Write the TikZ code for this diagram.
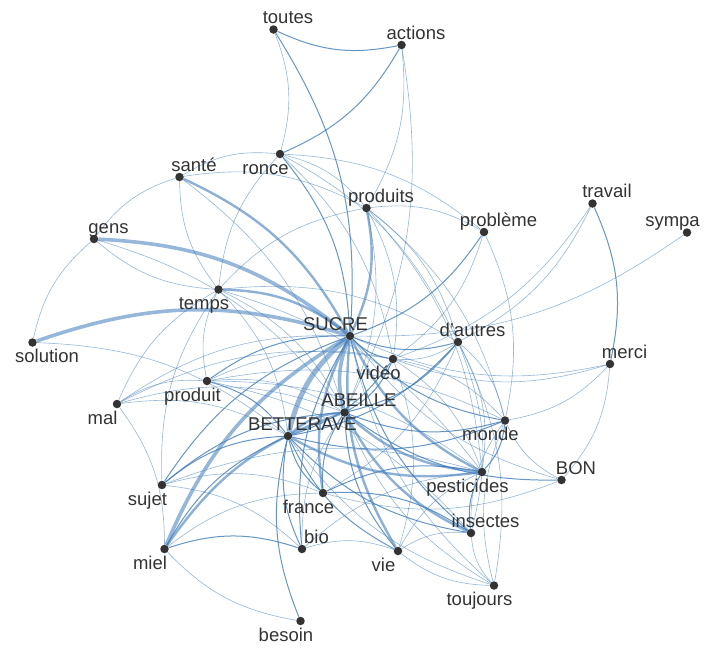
\documentclass[tikz,border=0pt]{standalone}
\usepackage{fontspec}
\setmainfont{Liberation Sans}
\usetikzlibrary{calc}
\definecolor{linkcol}{HTML}{3F7CBA}
\definecolor{inkcol}{HTML}{333333}
\pgfdeclarelayer{links}
\pgfsetlayers{links,main}
\tikzset{>=latex}
\tikzset{
	word/.style = {circle, fill = inkcol, inner sep = 0pt, minimum size = 8.5pt},
	lab/.style = {anchor = base, text = inkcol, inner sep = 0pt, font = \fontsize{18.5}{22}\selectfont},
	lne/.style = {xshift = 14.5pt, yshift = 6pt},
	lnw/.style = {xshift = -14.5pt, yshift = 6pt},
	lse/.style = {xshift = 14.5pt, yshift = -20pt},
	lsw/.style = {xshift = -14.5pt, yshift = -20pt},
	w1/.style = {linkcol, line width = 0.6pt, draw opacity = 0.55},
	w2/.style = {linkcol, line width = 1pt, draw opacity = 0.8},
	w3/.style = {linkcol, line width = 2.4pt, draw opacity = 0.6},
	w4/.style = {linkcol, line width = 3.6pt, draw opacity = 0.55},
	w5/.style = {linkcol, line width = 5pt, draw opacity = 0.55}
}

\begin{document}
\begin{tikzpicture}[x = 1pt, y = -1pt]
\useasboundingbox (0,0) rectangle (720,651);

\foreach \n/\x/\y/\t/\p in {toutes/273.5/29.5/toutes/lne, actions/401.5/45/actions/lne,
	ronce/280/154/ronce/lsw, sante/179.5/177/santé/lne, produits/366.5/208/produits/lne,
	probleme/484/232/problème/lne, travail/592.5/203.5/travail/lne, sympa/687/232.5/sympa/lnw,
	gens/94/239/gens/lne, temps/218.5/289.5/temps/lsw, sucre/350/336/SUCRE/lnw,
	autres/458/342/d'autres/lne, solution/32.5/342.5/solution/lse, video/393/359/vidéo/lsw,
	merci/610/364/merci/lne, produit/207/381/produit/lsw, mal/117/404/mal/lsw,
	abeille/344.5/412.5/ABEILLE/lne, betterave/288/436/BETTERAVE/lne, monde/505/420.5/monde/lsw,
	bon/561.5/480/BON/lne, pesticides/482/472/pesticides/lsw, sujet/162/485/sujet/lsw,
	france/323/493/france/lsw, insectes/471/533/insectes/lne, bio/302/549/bio/lne,
	miel/164.5/549/miel/lsw, vie/398/551/vie/lsw, toujours/494/585.5/toujours/lsw,
	besoin/300.5/621/besoin/lsw} {
	\node[word] (\n) at (\x,\y) {};
	\node[lab, \p] (\n-t) at (\x,\y) {\t};
}

\begin{pgfonlayer}{links}
\foreach \a/\b/\w in {betterave/sucre/w5, abeille/sucre/w4, betterave/abeille/w3,
	actions/toutes/w2, toutes/ronce/w1, toutes/sucre/w2, actions/ronce/w2, actions/produits/w1,
	actions/abeille/w1, sante/ronce/w1, ronce/produits/w1, ronce/probleme/w1, ronce/autres/w1,
	ronce/sucre/w2, ronce/video/w1, temps/ronce/w1,
	gens/sante/w1, sante/sucre/w3, temps/sante/w1, sante/produits/w1, sante/abeille/w1,
	solution/gens/w1, gens/sucre/w4, temps/gens/w1, gens/abeille/w1,
	solution/sucre/w4, solution/betterave/w1,
	temps/sucre/w3, temps/produits/w1, temps/autres/w1, temps/betterave/w1, temps/abeille/w1,
	temps/pesticides/w1, sujet/temps/w1, mal/temps/w1, produit/temps/w1,
	produits/sucre/w3, produits/probleme/w1, produits/autres/w1, produits/abeille/w1,
	produits/monde/w1, produits/pesticides/w1, produits/video/w1,
	probleme/sucre/w2, probleme/video/w1, probleme/monde/w1,
	travail/merci/w2, travail/autres/w1, travail/video/w1, sympa/sucre/w1,
	autres/sucre/w2, autres/abeille/w2, autres/betterave/w2, autres/video/w1, autres/pesticides/w1,
	autres/insectes/w1, autres/toujours/w1, autres/france/w1, autres/monde/w1,
	video/sucre/w2, video/abeille/w2, video/betterave/w2, merci/video/w1, video/monde/w1,
	video/pesticides/w1, video/vie/w1, mal/video/w1, produit/video/w1,
	merci/sucre/w1, merci/monde/w1, merci/bon/w1,
	bon/monde/w1, bon/abeille/w2, bon/sucre/w1, bon/france/w1,
	monde/sucre/w2, monde/abeille/w2, monde/betterave/w2, monde/pesticides/w2, insectes/monde/w1,
	toujours/monde/w1, produit/monde/w1,
	pesticides/sucre/w3, pesticides/abeille/w3, pesticides/betterave/w3, france/pesticides/w2,
	insectes/pesticides/w2, vie/pesticides/w1, produit/pesticides/w1, sujet/pesticides/w1,
	insectes/abeille/w3, insectes/sucre/w2, insectes/betterave/w2, france/insectes/w2,
	vie/insectes/w1, toujours/insectes/w1, produit/insectes/w1,
	vie/sucre/w3, vie/abeille/w2, vie/betterave/w2, toujours/vie/w1, bio/vie/w1,
	toujours/sucre/w1, toujours/abeille/w1, toujours/betterave/w1,
	france/sucre/w3, france/betterave/w2, france/abeille/w2, sujet/france/w1, miel/france/w1,
	bio/betterave/w2, bio/sucre/w2, bio/abeille/w1, miel/bio/w2, sujet/bio/w1, bio/pesticides/w1,
	besoin/betterave/w2, besoin/miel/w1,
	miel/sucre/w4, miel/abeille/w3, miel/betterave/w2, mal/miel/w1,
	sujet/sucre/w2, sujet/betterave/w2, sujet/abeille/w2,
	mal/sucre/w1, mal/abeille/w1, mal/betterave/w1, mal/produit/w1,
	produit/sucre/w2, produit/betterave/w2, produit/abeille/w1}
	\draw[\w] (\a) to[bend left = 18] (\b);
\end{pgfonlayer}

\end{tikzpicture}
\end{document}
